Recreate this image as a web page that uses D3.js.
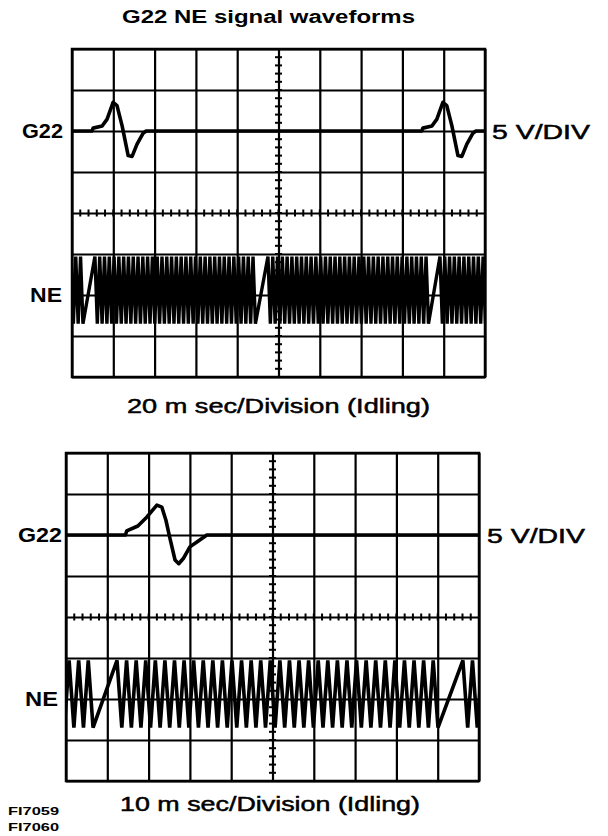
<!DOCTYPE html>
<html>
<head>
<meta charset="utf-8">
<script src="https://cdn.jsdelivr.net/npm/d3@7"></script>
<style>
  body { margin: 0; background: #fff; }
  svg { display: block; }
  text { font-family: "Liberation Sans", Arial, sans-serif; fill: #000; }
  text.med { stroke: #000; stroke-width: 0.5px; }
</style>
</head>
<body>
<div id="chart"></div>
<script>
const width = 608;
const height = 836;
const cols = 10;
const rows = 8;
const colPx = 41.3;
const rowPx = 41;
const voltsPerDiv = 5;

// G22 pulse shape around its positive peak: [ms from peak, volts]
const topG22Pulse = [[-10.2, 0], [-9.7, 0.35], [-5.3, 0.6], [-2.9, 1.45], [0, 3.5], [1.9, 3.1], [4.4, 0.6],
    [7.3, -3.0], [9.2, -3.1], [11.6, -1.6], [14.5, -0.3], [16, 0]];
const topG22Peaks = [19.9, 179.6];
const bottomG22Pulse = [[-7.6, 0], [-7.3, 0.5], [-4.6, 1.1], [-2.4, 2.2], [0, 3.65], [1.2, 3.4], [2.2, 1.8],
    [3.1, -0.25], [4.4, -3.05], [5.3, -3.5], [6.5, -2.8], [8.0, -1.45], [9.7, -0.85], [12.1, 0]];
const bottomG22Peaks = [22.0];

// NE crank signal, 36-2 wheel: time of the first tooth after each gap (ms)
const neToothMs = 2.32;
const neSlots = 36;
const neMissing = 2;
const neHighV = 4.7;
const neLowV = -3.5;
const topNeGapEnds = [11.1, 94.9, 178.2];
const bottomNeGapEnds = [12.35, 96.1];

const msPerDiv = [20, 10];
const captions = ["20 m sec/Division (Idling)", "10 m sec/Division (Idling)"];
const channelNames = ["G22", "NE"];
const channelOffsets = [2, -2]; // divisions from screen centre
const scaleLabel = "5 V/DIV";

const svg = d3.select("#chart").append("svg").attr("width", width).attr("height", height);

svg.append("text").attr("x", 122).attr("y", 23)
    .attr("font-size", 18).attr("font-weight", "bold")
    .attr("textLength", 293).attr("lengthAdjust", "spacingAndGlyphs")
    .text("G22 NE signal waveforms");

function g22Trace(pulse, peaks, span) {
    const pts = [[0, 0]];
    peaks.forEach((p) => pulse.forEach(([dt, v]) => pts.push([p + dt, v])));
    pts.push([span, 0]);
    return pts;
}

function neTrace(gapEnds, span) {
    const starts = [gapEnds[0] - neSlots * neToothMs, ...gapEnds];
    const pts = [];
    starts.forEach((g) => {
        for (let k = 0; k < neSlots - neMissing; k++) {
            pts.push([g + k * neToothMs, neHighV]);
            pts.push([g + (k + 0.5) * neToothMs, neLowV]);
        }
    });
    return pts.filter((d) => d[0] > -5 && d[0] < span + 5).sort((a, b) => a[0] - b[0]);
}

function drawPanel(i, left, top, g22Pulse, g22Peaks, neGapEnds, labelX, labels) {
    const w = cols * colPx;
    const h = rows * rowPx;
    const span = cols * msPerDiv[i];
    const g = svg.append("g");

    const xDiv = d3.scaleLinear().domain([0, cols]).range([left, left + w]);
    const yDiv = d3.scaleLinear().domain([-rows / 2, rows / 2]).range([top + h, top]);
    const x = d3.scaleLinear().domain([0, span]).range([left, left + w]);

    // grid
    g.append("g").attr("transform", `translate(0,${top})`)
        .call(d3.axisBottom(xDiv).tickValues(d3.range(0, cols + 1)).tickSize(h).tickFormat(""))
        .call((s) => s.select(".domain").remove())
        .selectAll("line").attr("stroke", "#000").attr("stroke-width", 2.2);
    g.append("g").attr("transform", `translate(${left},0)`)
        .call(d3.axisRight(yDiv).tickValues(d3.range(-rows / 2, rows / 2 + 1)).tickSize(w).tickFormat(""))
        .call((s) => s.select(".domain").remove())
        .selectAll("line").attr("stroke", "#000").attr("stroke-width", 2.2);

    // minor ticks on the centre lines
    const minor = g.append("g").attr("stroke", "#000").attr("stroke-width", 2);
    minor.selectAll(".mx").data(d3.range(1, cols * 5)).join("line")
        .attr("x1", (d) => xDiv(d / 5)).attr("x2", (d) => xDiv(d / 5))
        .attr("y1", yDiv(0) - 3.5).attr("y2", yDiv(0) + 3.5);
    minor.selectAll(".my").data(d3.range(1, rows * 5)).join("line")
        .attr("y1", (d) => yDiv(d / 5 - rows / 2)).attr("y2", (d) => yDiv(d / 5 - rows / 2))
        .attr("x1", xDiv(cols / 2) - 3.5).attr("x2", xDiv(cols / 2) + 3.5);

    g.append("rect").attr("x", left).attr("y", top).attr("width", w).attr("height", h)
        .attr("fill", "none").attr("stroke", "#000").attr("stroke-width", 2.5);

    const clipId = "clip" + i;
    svg.append("clipPath").attr("id", clipId).append("rect")
        .attr("x", left).attr("y", top).attr("width", w).attr("height", h);

    const line = (off) => d3.line().x((d) => x(d[0])).y((d) => yDiv(d[1] / voltsPerDiv + off));

    g.append("path").attr("clip-path", `url(#${clipId})`)
        .attr("d", line(channelOffsets[0])(g22Trace(g22Pulse, g22Peaks, span)))
        .attr("fill", "none").attr("stroke", "#000").attr("stroke-width", 3.6)
        .attr("stroke-linejoin", "round");

    g.append("path").attr("clip-path", `url(#${clipId})`)
        .attr("d", line(channelOffsets[1])(neTrace(neGapEnds, span)))
        .attr("fill", "none").attr("stroke", "#000").attr("stroke-width", labels.neStroke)
        .attr("stroke-linejoin", "miter");

    // labels
    g.append("text").attr("x", labels.g22[0]).attr("y", yDiv(channelOffsets[0]) + 7)
        .attr("font-size", 20).attr("font-weight", "bold")
        .attr("textLength", labels.g22[1]).attr("lengthAdjust", "spacingAndGlyphs")
        .text(channelNames[0]);
    g.append("text").attr("x", labels.ne[0]).attr("y", yDiv(channelOffsets[1]) + 7)
        .attr("font-size", 20).attr("font-weight", "bold")
        .attr("textLength", labels.ne[1]).attr("lengthAdjust", "spacingAndGlyphs")
        .text(channelNames[1]);
    g.append("text").attr("class", "med").attr("x", labelX).attr("y", yDiv(channelOffsets[0]) + 8)
        .attr("font-size", 20)
        .attr("textLength", 98).attr("lengthAdjust", "spacingAndGlyphs")
        .text(scaleLabel);
    g.append("text").attr("class", "med").attr("x", labels.cap[0]).attr("y", labels.cap[1])
        .attr("font-size", 21)
        .attr("textLength", labels.cap[2]).attr("lengthAdjust", "spacingAndGlyphs")
        .text(captions[i]);
}

drawPanel(0, 72, 49, topG22Pulse, topG22Peaks, topNeGapEnds, 492,
    { g22: [22, 41], ne: [30, 32], cap: [127, 413, 303], neStroke: 3.4 });
drawPanel(1, 66, 453, bottomG22Pulse, bottomG22Peaks, bottomNeGapEnds, 487,
    { g22: [18, 44], ne: [25, 33], cap: [120, 811, 300], neStroke: 3.6 });

svg.append("text").attr("x", 8).attr("y", 815).attr("font-size", 11).attr("font-weight", "bold")
    .attr("textLength", 51).attr("lengthAdjust", "spacingAndGlyphs").text("FI7059");
svg.append("text").attr("x", 8).attr("y", 831).attr("font-size", 11).attr("font-weight", "bold")
    .attr("textLength", 51).attr("lengthAdjust", "spacingAndGlyphs").text("FI7060");
</script>
</body>
</html>
